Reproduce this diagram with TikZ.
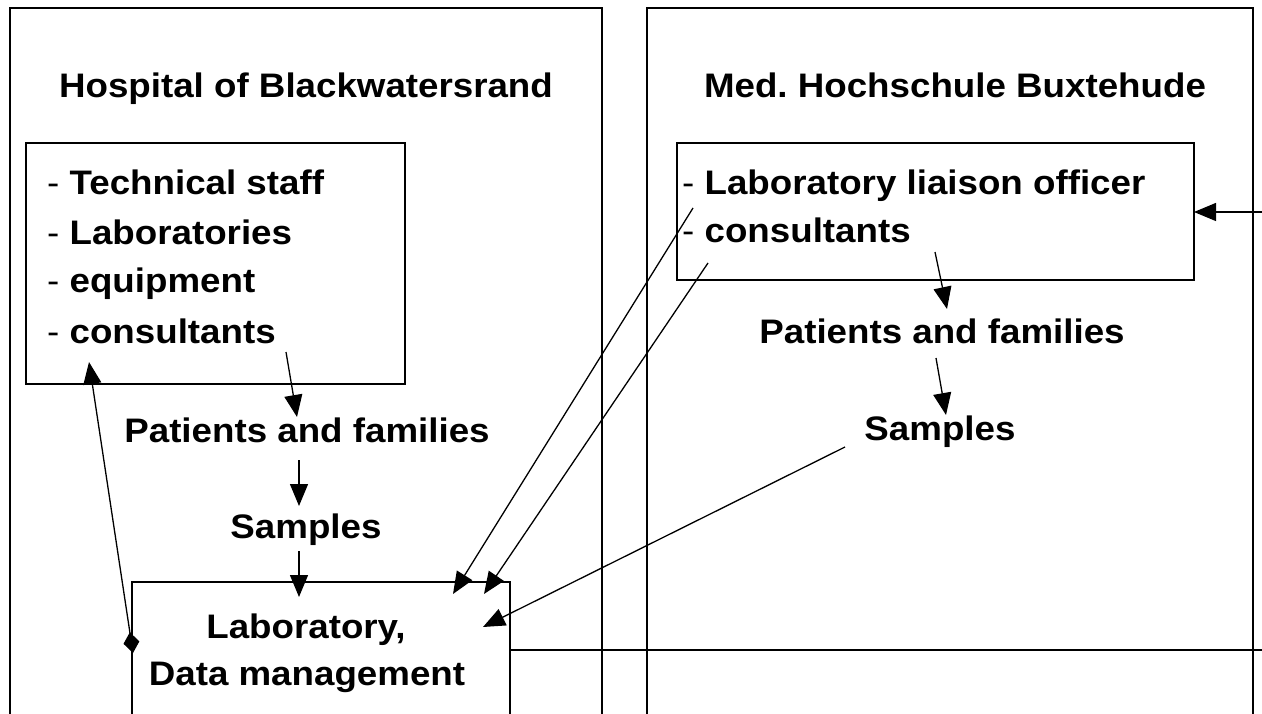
\documentclass[tikz,border=0pt]{standalone}
\usepackage{fontspec}
\setmainfont{Liberation Sans}[FakeStretch=1.08]
\usetikzlibrary{arrows.meta}
\begin{document}
\begin{tikzpicture}[x=1pt,y=-1pt,
  box/.style={draw, line width=1.5pt, inner sep=0pt, outer sep=0pt, anchor=north west},
  lbl/.style={font=\fontsize{34}{40}\selectfont\bfseries, anchor=base, inner sep=0pt},
  item/.style={font=\fontsize{34}{40}\selectfont, anchor=base west, inner sep=0pt},
  arr/.style={line width=1.3pt, -{Triangle[length=22pt,width=18pt]}},
  darr/.style={line width=1.3pt, {Diamond[length=21pt,width=16pt]}-{Triangle[length=22pt,width=18pt]}},
  conn/.style={line width=1.5pt},
]
\clip (0,0) rectangle (1262,714);
% outer panels
\node[box, minimum width=592pt, minimum height=740pt] (outerL) at (10,8) {};
\node[box, minimum width=606pt, minimum height=740pt] (outerR) at (647,8) {};
% titles
\node[lbl] (titleL) at (306,98) {Hospital of Blackwatersrand};
\node[lbl] (titleR) at (955,98) {Med.~Hochschule Buxtehude};
% left resource box
\node[box, minimum width=379pt, minimum height=241pt] (resL) at (26,143) {};
\node[item] (l1) at (47,195) {- \textbf{Technical staff}};
\node[item] (l2) at (47,245) {- \textbf{Laboratories}};
\node[item] (l3) at (47,293) {- \textbf{equipment}};
\node[item] (l4) at (47,343) {- \textbf{consultants}};
% right resource box
\node[box, minimum width=517pt, minimum height=137pt] (resR) at (677,143) {};
\node[item] (r1) at (682,195) {- \textbf{Laboratory liaison officer}};
\node[item] (r2) at (682,243) {- \textbf{consultants}};
% flow texts
\node[lbl] (patL) at (307,442) {Patients and families};
\node[lbl] (samL) at (306,538) {Samples};
\node[lbl] (patR) at (942,343) {Patients and families};
\node[lbl] (samR) at (940,440) {Samples};
% laboratory box
\node[box, minimum width=378pt, minimum height=160pt] (lab) at (132,582) {};
\node[lbl] (labt1) at (306,638) {Laboratory,};
\node[lbl] (labt2) at (307,685) {Data management};
% coordinates for free ends
\coordinate (a1s) at (286,352); \coordinate (a1e) at (297,417);
\coordinate (a2s) at (299,460); \coordinate (a2e) at (299,506);
\coordinate (a3s) at (299,551); \coordinate (a3e) at (299,597);
\coordinate (dms) at (133,653); \coordinate (dme) at (89,362);
\coordinate (b1s) at (693,208); \coordinate (b1e) at (453,594);
\coordinate (b2s) at (708,263); \coordinate (b2e) at (484,594);
\coordinate (b3s) at (845,447); \coordinate (b3e) at (483,627);
\coordinate (c1s) at (935,252); \coordinate (c1e) at (947,309);
\coordinate (c2s) at (936,358); \coordinate (c2e) at (946,415);
\coordinate (ext1) at (1270,212); \coordinate (ext2) at (1270,650);
% connectors
\draw[arr] (a1s) -- (a1e);
\draw[arr] (a2s) -- (a2e);
\draw[arr] (a3s) -- (a3e);
\draw[darr] (dms) -- (dme);
\draw[arr] (b1s) -- (b1e);
\draw[arr] (b2s) -- (b2e);
\draw[arr] (b3s) -- (b3e);
\draw[arr] (c1s) -- (c1e);
\draw[arr] (c2s) -- (c2e);
\draw[arr] (ext1) -- (ext1 -| resR.east);
\draw[conn] (lab.east |- ext2) -- (ext2);
\end{tikzpicture}
\end{document}
